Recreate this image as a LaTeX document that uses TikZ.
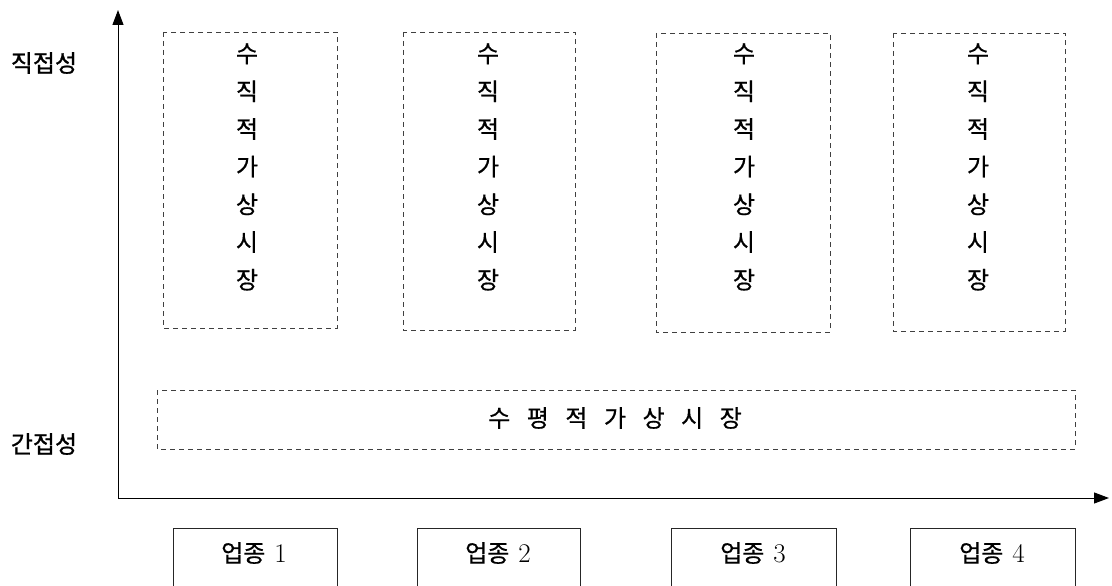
\documentclass[tikz,border=0pt]{standalone}
\usepackage{fontspec}
\newfontfamily\kr{Noto Sans CJK KR}[FakeBold=0.6]
\newfontfamily\krb{Noto Sans CJK KR}[FakeBold=1.0]
\usetikzlibrary{arrows.meta}
\tikzset{
  dbox/.style={draw=black!75, dashed, dash pattern=on 5pt off 4pt, line width=0.7pt},
  sbox/.style={draw=black!85, line width=0.8pt},
  vtext/.style={align=center, inner sep=0pt, font=\kr\fontsize{24}{37.7}\selectfont},
  lab/.style={inner sep=0pt, font=\kr\fontsize{24}{28}\selectfont},
  side/.style={inner sep=0pt, font=\krb\fontsize{24}{28}\selectfont},
  axis/.style={line width=1pt, -{Triangle[length=15pt,width=11pt]}}
}
\begin{document}
\begin{tikzpicture}[x=1pt,y=-1pt]
\useasboundingbox (0,0) rectangle (1112,586);
\clip (0,0) rectangle (1112,586);
% axes
\coordinate (o) at (118,498);
\coordinate (ytip) at (118,10);
\coordinate (xtip) at (1109,498);
\draw[axis] (o) -- (ytip);
\draw[axis] (o) -- (xtip);
% axis labels
\node[side] (dir) at (44,63) {직접성};
\node[side] (ind) at (44,444) {간접성};
% vertical dashed boxes
\draw[dbox] (163,32) rectangle (337,328);
\draw[dbox] (403,32) rectangle (575,330);
\draw[dbox] (656,33) rectangle (830,332);
\draw[dbox] (893,33) rectangle (1065,331);
\node[vtext] (v1) at (247,167) {수\\직\\적\\가\\상\\시\\장};
\node[vtext] (v2) at (488,167) {수\\직\\적\\가\\상\\시\\장};
\node[vtext] (v3) at (744,167) {수\\직\\적\\가\\상\\시\\장};
\node[vtext] (v4) at (978,167) {수\\직\\적\\가\\상\\시\\장};
% horizontal dashed box
\draw[dbox] (157,390) rectangle (1075,449);
\node[lab] (h) at (615,418) {\spaceskip=16.5pt\relax 수 평 적 가 상 시 장};
% industry boxes
\draw[sbox] (173,640) -- (173,528) -- (337,528) -- (337,640);
\draw[sbox] (417,640) -- (417,528) -- (580,528) -- (580,640);
\draw[sbox] (671,640) -- (671,528) -- (836,528) -- (836,640);
\draw[sbox] (910,640) -- (910,528) -- (1075,528) -- (1075,640);
\node[lab] (b1) at (254,553) {업종\hspace{9pt}{\rmfamily\fontsize{27}{30}\selectfont 1}};
\node[lab] (b2) at (498,553) {업종\hspace{9pt}{\rmfamily\fontsize{27}{30}\selectfont 2}};
\node[lab] (b3) at (753,553) {업종\hspace{9pt}{\rmfamily\fontsize{27}{30}\selectfont 3}};
\node[lab] (b4) at (992,553) {업종\hspace{9pt}{\rmfamily\fontsize{27}{30}\selectfont 4}};
\end{tikzpicture}
\end{document}
